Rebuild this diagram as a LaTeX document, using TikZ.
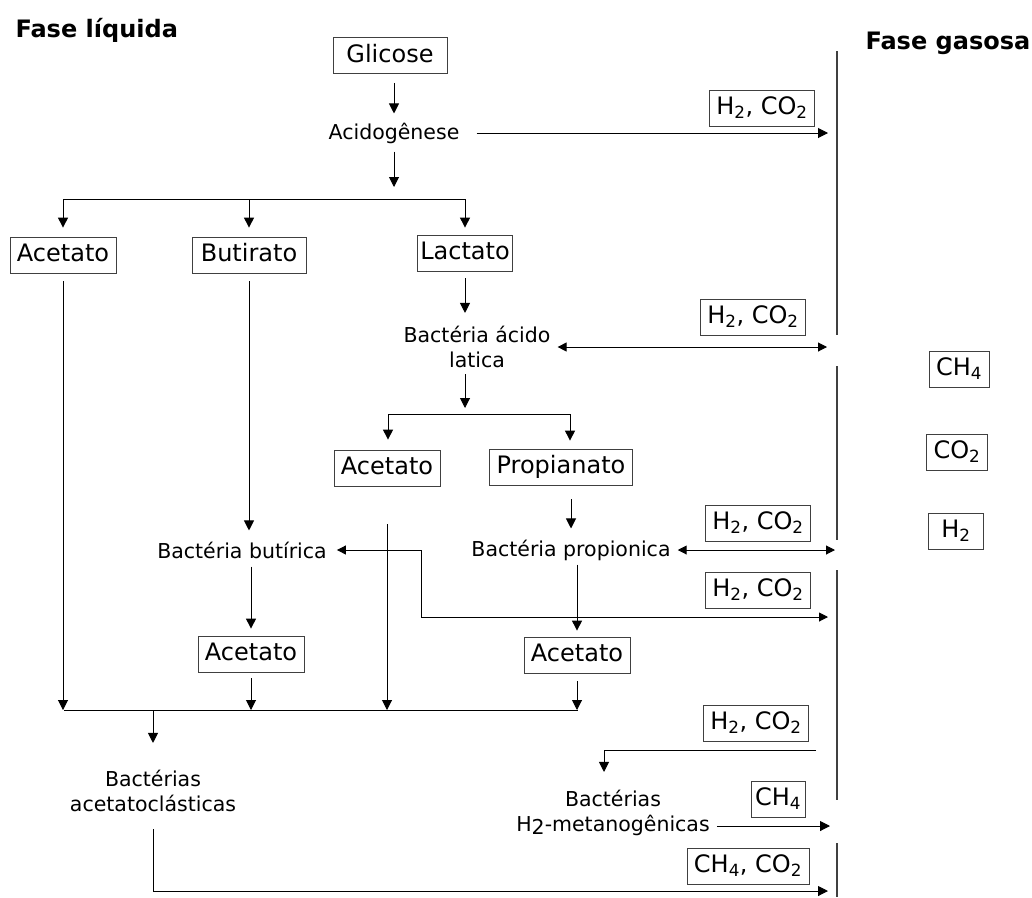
\documentclass[tikz,border=0pt]{standalone}
\usepackage{fontspec}
\setmainfont{DejaVu Sans}
\usepackage{tikz}
\usetikzlibrary{arrows.meta, positioning}

\begin{document}
\begin{tikzpicture}[x=1pt, y=-1pt,
    caixa/.style={draw=black!75, line width=0.8pt, inner xsep=7pt, inner ysep=6.5pt,
      text height=18pt, text depth=5pt, font=\fontsize{24}{28}\selectfont},
    rotulo/.style={font=\fontsize{20.5}{25}\selectfont, align=center, inner sep=3pt},
    titulo/.style={font=\fontsize{24}{28}\selectfont\bfseries},
    seta/.style={-{Triangle[length=10pt, width=10pt]}, line width=1pt},
    dupla/.style={{Triangle[length=9pt, width=9pt]}-{Triangle[length=9pt, width=9pt]}, line width=1pt},
    traco/.style={line width=1pt},
    linhagas/.style={line width=1.2pt, black!75}]
    \useasboundingbox (0,0) rectangle (1032,897);

    \node[titulo, anchor=base west] (tliq) at (12,37) {Fase líquida};
    \node[titulo, anchor=base west] (tgas) at (862,49) {Fase gasosa};

    \coordinate (g1) at (837,51);
    \coordinate (g2) at (837,335);
    \coordinate (g3) at (837,366);
    \coordinate (g4) at (837,540);
    \coordinate (g5) at (837,570);
    \coordinate (g6) at (837,800);
    \coordinate (g7) at (837,843);
    \coordinate (g8) at (837,897);
    \draw[linhagas] (g1) -- (g2) (g3) -- (g4) (g5) -- (g6) (g7) -- (g8);

    \node[caixa, minimum width=114pt] (glic) at (390,55.5) {Glicose};
    \node[rotulo] (acid) at (394,133) {Acidogênese};
    \node[caixa] (hc1) at (762,108) {H\textsubscript{2}, CO\textsubscript{2}};
    \node[caixa] (ac1) at (63,255) {Acetato};
    \node[caixa, minimum width=114pt] (but) at (249,255) {Butirato};
    \node[caixa, inner xsep=3pt] (lac) at (465,253) {Lactato};
    \node[rotulo] (lat) at (477,347) {Bactéria ácido\\latica};
    \node[caixa] (hc2) at (753,317) {H\textsubscript{2}, CO\textsubscript{2}};
    \node[caixa] (ac2) at (387,468) {Acetato};
    \node[caixa] (prop) at (561,467) {Propianato};
    \node[rotulo] (bprop) at (571,550) {Bactéria propionica};
    \node[caixa] (hc3) at (758,523) {H\textsubscript{2}, CO\textsubscript{2}};
    \node[caixa] (hc4) at (758,590) {H\textsubscript{2}, CO\textsubscript{2}};
    \node[rotulo] (bbut) at (242,550) {Bactéria butírica};
    \node[caixa] (ac3) at (251,654) {Acetato};
    \node[caixa] (ac4) at (577,655) {Acetato};
    \node[rotulo] (bacet) at (153,791) {Bactérias\\acetatoclásticas};
    \node[caixa] (hc5) at (756,723) {H\textsubscript{2}, CO\textsubscript{2}};
    \node[rotulo] (bmet) at (613,813) {Bactérias\\H\raisebox{-0.12em}{2}-metanogênicas};
    \node[caixa, inner xsep=4pt] (ch4) at (778,799) {CH\textsubscript{4}};
    \node[caixa] (hc6) at (748,866) {CH\textsubscript{4}, CO\textsubscript{2}};
    \node[caixa] (gch4) at (959,369) {CH\textsubscript{4}};
    \node[caixa] (gco2) at (957,452) {CO\textsubscript{2}};
    \node[caixa, minimum width=55pt] (gh2) at (956,531) {H\textsubscript{2}};

    \draw[seta, shorten <=9pt, shorten >=6pt] (glic.south -| acid) -- (acid);
    \coordinate (br) at (394,199);
    \draw[seta, shorten <=5pt, shorten >=12pt] (acid) -- (br);
    \draw[traco] (br -| ac1) -- (br -| lac);
    \draw[seta, shorten >=9pt] (br -| ac1) -- (ac1);
    \draw[seta, shorten >=9pt] (br -| but) -- (but);
    \draw[seta, shorten >=7pt] (br -| lac) -- (lac);
    \draw[seta, shorten <=14pt, shorten >=9pt] (acid.east) -- (acid.east -| g1);

    \coordinate (colL) at (64,710);
    \coordinate (colR) at (578,710);
    \draw[traco] (colL) -- (colR);
    \draw[seta, shorten <=8pt] (ac1) -- (ac1 |- colL);
    \draw[seta, shorten <=8pt, shorten >=8pt] (but) -- (but |- bbut.north);
    \draw[seta, shorten <=7pt, shorten >=10pt] (lac) -- (lac |- lat.north);
    \coordinate (br2) at (465,414);
    \draw[seta, shorten <=3pt, shorten >=6pt] (lat.south -| br2) -- (br2);
    \coordinate (br2a) at (388,414);
    \coordinate (br2b) at (570,414);
    \draw[traco] (br2a) -- (br2b);
    \draw[seta, shorten >=10pt] (br2a) -- (br2a |- ac2.north);
    \draw[seta, shorten >=8pt] (br2b) -- (br2b |- prop.north);
    \draw[dupla, shorten <=4pt, shorten >=10pt] (lat.east) -- (lat.east -| g2);

    \draw[seta, shorten <=38pt] (ac2) -- (ac2 |- colL);
    \draw[seta, shorten <=14pt, shorten >=8pt] (prop.south -| bprop) -- (bprop);
    \draw[dupla, shorten <=4pt, shorten >=2pt] (bprop.east) -- (bprop.east -| g4);
    \draw[seta, shorten <=1pt, shorten >=6pt] (bprop.south -| ac4) -- (ac4);
    \coordinate (k1) at (421,617);
    \draw[dupla, shorten <=7pt, shorten >=9pt] (bbut.east) -| (k1) -- (k1 -| g5);
    \draw[seta, shorten <=5pt, shorten >=7pt] (bbut.south -| ac3) -- (ac3);
    \draw[seta, shorten <=6pt] (ac3) -- (ac3 |- colL);
    \draw[seta, shorten <=8pt] (ac4) -- (ac4 |- colR);

    \draw[seta, shorten >=24pt] (colL -| bacet) -- (bacet);
    \coordinate (fim) at (837,891);
    \draw[seta, shorten <=14pt, shorten >=9pt] (bacet.south) |- (fim);
    \coordinate (m1) at (816,750);
    \draw[seta, shorten >=15pt] (m1) -| ([xshift=-9pt]bmet.north);
    \draw[seta, shorten <=4pt, shorten >=7pt] ([yshift=-13pt]bmet.east) -- ([yshift=-13pt]bmet.east -| g7);
\end{tikzpicture}
\end{document}
